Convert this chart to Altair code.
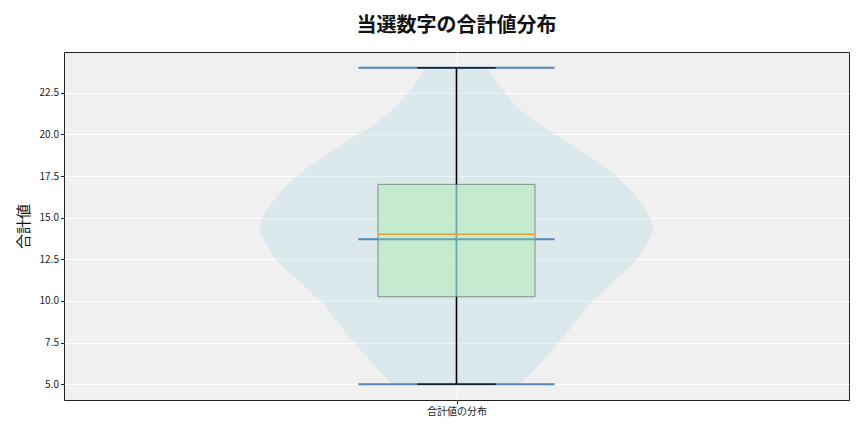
import altair as alt
import pandas as pd

# ---- data ----
category = ["合計値の分布"]
violin_values = [24.0, 23.82, 22.92, 22.48, 21.72, 21.02, 20.32, 19.96, 19.32, 18.53,
                 17.83, 17.42, 16.52, 15.63, 14.97, 14.53, 14.23, 13.93, 13.33, 12.53,
                 11.83, 11.13, 10.33, 9.93, 9.03, 8.13, 7.53, 6.74, 5.94, 5.14, 5.0]
violin_halfpx = [31.0, 32.7, 42.7, 49.3, 59.3, 72.7, 89.3, 99.3, 116.0, 136.0,
                 152.7, 161.0, 176.0, 187.7, 194.3, 196.0, 196.0, 194.3, 189.3, 181.0,
                 169.3, 156.0, 142.7, 134.3, 122.7, 111.0, 102.7, 91.0, 79.3, 66.0, 63.5]
stat_min = [5.0]
stat_q1 = [10.25]
stat_median = [14.0]
stat_q3 = [17.0]
stat_max = [24.0]
stat_mean = [13.7]
y_ticks = [5.0, 7.5, 10.0, 12.5, 15.0, 17.5, 20.0, 22.5]

POS = 1.0
VIOLIN_HALF = 0.25
BOX_HALF = 0.1
CAP_HALF = 0.05
EXT_HALF = 0.125

FONT = "Noto Sans CJK JP"

peak = max(violin_halfpx)
vdf = pd.DataFrame({"value": violin_values,
                    "d": [h / peak for h in violin_halfpx]})
vdf["left"] = POS - VIOLIN_HALF * vdf["d"]
vdf["right"] = POS + VIOLIN_HALF * vdf["d"]

sdf = pd.DataFrame({"pos": [POS], "mn": stat_min, "q1": stat_q1, "med": stat_median,
                    "q3": stat_q3, "mx": stat_max, "mean": stat_mean})

xscale = alt.Scale(domain=[0.5, 1.5], nice=False, zero=False)
yscale = alt.Scale(domain=[4.05, 24.95], nice=False, zero=False)

label_expr = "'" + category[0] + "'"

xaxis = alt.Axis(values=[POS], labelExpr=label_expr, title=None, grid=True,
                 gridColor="white", gridWidth=1, domain=False, tickSize=3.5,
                 tickColor="#222", labelFont=FONT, labelFontSize=10, labelColor="#222",
                 labelPadding=3)
yaxis = alt.Axis(values=y_ticks, format=".1f", title="合計値", grid=True,
                 gridColor="white", gridWidth=1, domain=False, tickSize=3.5,
                 tickColor="#222", labelFont=FONT, labelFontSize=10, labelColor="#222",
                 labelPadding=2, titleFont=FONT, titleFontSize=15,
                 titleFontWeight="normal", titleColor="#111", titlePadding=8)

violin = alt.Chart(vdf).mark_area(orient="horizontal", interpolate="linear",
                                  color="#add8e6", opacity=0.3).encode(
    y=alt.Y("value:Q", scale=yscale, axis=yaxis),
    x=alt.X("left:Q", scale=xscale, axis=xaxis),
    x2="right:Q",
)

base = alt.Chart(sdf)
blue = "#5588b8"

center_line = base.mark_rule(color=blue, strokeWidth=1.8).encode(
    x=alt.X("pos:Q", scale=xscale), y=alt.Y("mn:Q", scale=yscale), y2="mx:Q")

def hline(field, half, color, width):
    return base.mark_rule(color=color, strokeWidth=width).transform_calculate(
        a=f"datum.pos - {half}", b=f"datum.pos + {half}").encode(
        x=alt.X("a:Q", scale=xscale), x2="b:Q", y=alt.Y(f"{field}:Q", scale=yscale))

ext_min = hline("mn", EXT_HALF, blue, 2)
ext_max = hline("mx", EXT_HALF, blue, 2)
ext_mean = hline("mean", EXT_HALF, blue, 2)

box = base.mark_rect(fill="#90ee90", fillOpacity=0.3, stroke="#808f85",
                     strokeWidth=1).transform_calculate(
    a=f"datum.pos - {BOX_HALF}", b=f"datum.pos + {BOX_HALF}").encode(
    x=alt.X("a:Q", scale=xscale), x2="b:Q",
    y=alt.Y("q1:Q", scale=yscale), y2="q3:Q")

whisk_lo = base.mark_rule(color="black", strokeWidth=1.3).encode(
    x=alt.X("pos:Q", scale=xscale), y=alt.Y("mn:Q", scale=yscale), y2="q1:Q")
whisk_hi = base.mark_rule(color="black", strokeWidth=1.3).encode(
    x=alt.X("pos:Q", scale=xscale), y=alt.Y("q3:Q", scale=yscale), y2="mx:Q")
cap_lo = hline("mn", CAP_HALF, "black", 1.3)
cap_hi = hline("mx", CAP_HALF, "black", 1.3)
median = hline("med", BOX_HALF, "#e8a033", 1.5)

chart = alt.layer(
    violin, center_line, ext_min, ext_max, ext_mean,
    box, whisk_lo, whisk_hi, cap_lo, cap_hi, median
).properties(
    width=785, height=348,
    background="white",
    autosize=alt.AutoSizeParams(type="none"),
    padding={"left": 56, "top": 44, "right": 7, "bottom": 24},
    title=alt.TitleParams("当選数字の合計値分布", font=FONT, fontSize=20,
                          fontWeight="bold", color="#111", anchor="middle", offset=16),
).configure_view(
    fill="#f0f0f0", stroke="#222", strokeWidth=1
)

chart.save("out.html", embed_options={"renderer": "svg", "actions": False})
